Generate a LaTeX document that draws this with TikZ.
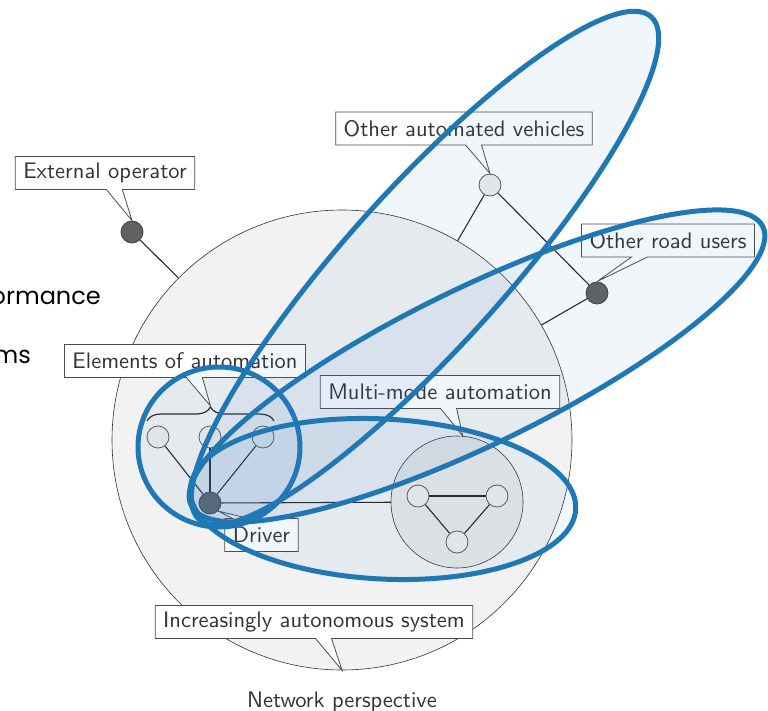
\documentclass[tikz,border=0pt]{standalone}
\usepackage{fontspec}
\setsansfont{lmsans10-regular.otf}
\newfontfamily\popfont{Poppins}
\usetikzlibrary{shapes.callouts,decorations.pathreplacing}
\definecolor{tabblue}{HTML}{1F77B4}
\definecolor{tintblue}{RGB}{60,130,200}
\definecolor{txtgray}{HTML}{333333}
\begin{document}
\begin{tikzpicture}[x=1pt,y=-1pt,
  font=\sffamily\fontsize{22.5}{27}\selectfont,
  lbl/.style={rectangle callout, draw=black!70, fill=white, line width=0.8pt,
    text=txtgray, inner xsep=8pt, inner ysep=0pt, minimum height=33pt,
    callout pointer width=16pt},
  dnode/.style={circle, draw=black!75, fill=black!62, minimum size=22pt,
    inner sep=0pt, line width=0.8pt},
  lnode/.style={circle, draw=black!65, fill=black!7, minimum size=22pt,
    inner sep=0pt, line width=0.8pt},
  edgeline/.style={draw=black!85, line width=1.1pt},
  grp/.style={draw=tabblue, line width=5pt, fill=tintblue, fill opacity=0.07}]
\useasboundingbox (0,0) rectangle (768,711);

% outer nodes
\coordinate (C) at (342,440);
\node[dnode] (ext) at (132,232) {};
\node[lnode] (oav) at (490,185) {};
\node[dnode] (oru) at (597,293) {};
\draw[edgeline] (ext) -- (C);
\draw[edgeline] (oav) -- (C);
\draw[edgeline] (oru) -- (C);
\draw[edgeline] (oav) -- (oru);

% big system circle
\node[circle, draw=black!80, fill=black!5, minimum size=460pt, inner sep=0pt,
  line width=0.6pt] (big) at (C) {};

% driver and multi-mode
\node[dnode] (drv) at (210,503) {};
\coordinate (mmc) at (457,502);
\draw[edgeline] (drv) -- (mmc);
\node[circle, draw=black!80, fill=black!9, minimum size=132pt, inner sep=0pt,
  line width=0.6pt] (mm) at (mmc) {};
\node[lnode] (m1) at (418,496) {};
\node[lnode] (m2) at (497,496) {};
\node[lnode] (m3) at (457,542) {};
\draw[edgeline] (m1) -- (m2);
\draw[edgeline] (m2) -- (m3);
\draw[edgeline] (m3) -- (m1);

% elements of automation
\node[lnode] (e1) at (158,437) {};
\node[lnode] (e2) at (210,437) {};
\node[lnode] (e3) at (263,437) {};
\draw[edgeline] (e1) -- (drv);
\draw[edgeline] (e2) -- (drv);
\draw[edgeline] (e3) -- (drv);
\coordinate (bl) at (147,421);
\coordinate (br) at (274,421);
\coordinate (bt) at (210.5,406);
\draw[decorate, decoration={brace, amplitude=14pt}, line width=1.2pt, black!85]
  (bl) -- (br);

% labels
\node[lbl, callout absolute pointer={(ext.north)}] (lext) at (105,173) {External operator};
\node[lbl, callout absolute pointer={(oav.north)}] (loav) at (464,128.5) {Other automated vehicles};
\node[lbl, callout absolute pointer={(oru.north)}] (loru) at (668,240.5) {Other road users};
\node[lbl, callout absolute pointer={(bt)}] (lel) at (185,361) {Elements of automation};
\node[lbl, callout absolute pointer={(mm.85)}] (lmm) at (440,392) {Multi-mode automation};
\node[lbl, callout absolute pointer={(drv.south east)}] (ldrv) at (261.5,535) {Driver};
\node[lbl, callout absolute pointer={(big.south)}] (lias) at (314,622) {Increasingly autonomous system};

\node[anchor=base, text=txtgray, inner sep=0pt] (np) at (342,707) {Network perspective};
\node[anchor=base east, inner sep=0pt, font=\popfont\fontsize{24}{28}\selectfont] (t1) at (101,305) {ormance};
\node[anchor=base east, inner sep=0pt, font=\popfont\fontsize{24}{28}\selectfont] (t2) at (31,363) {ms};

% groupings
\draw[grp] (219,447) ellipse [x radius=81, y radius=80];
\draw[grp, rotate around={48:(425,268)}] (425,268) ellipse [x radius=338, y radius=79];
\draw[grp, rotate around={26:(477,366)}] (477,366) ellipse [x radius=318, y radius=78];
\draw[grp, rotate around={-3:(383,499)}] (383,499) ellipse [x radius=193, y radius=80];
\end{tikzpicture}
\end{document}
